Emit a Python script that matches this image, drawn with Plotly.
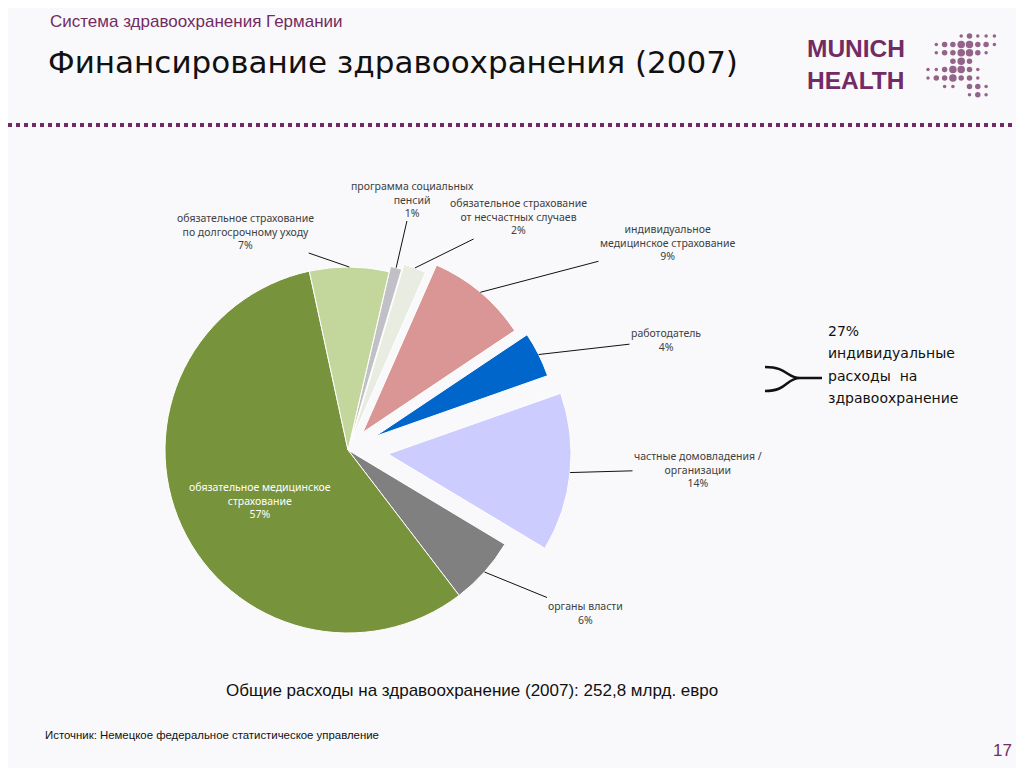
import math
import plotly.graph_objects as go

# pie data, clockwise from the first slice
labels = ["программа социальных<br>пенсий",
          "обязательное страхование<br>от несчастных случаев",
          "индивидуальное<br>медицинское страхование",
          "работодатель",
          "частные домовладения /<br>организации",
          "органы власти",
          "обязательное медицинское<br>страхование",
          "обязательное страхование<br>по долгосрочному уходу"]
shares = [1, 2, 9, 4, 14, 6, 57, 7]
colors = ["#C0C0C6", "#E9ECE0", "#D99694", "#0066CC", "#CCCCFF", "#808080", "#77933C", "#C3D69B"]
pulls = [0.03, 0.06, 0.125, 0.165, 0.22, 0, 0, 0]

# where each label sits (page pixels), index 6 is drawn inside the slice
label_pos = [(412, 199), (518, 217), (668, 243), (666, 340), (698, 469), (585, 613), (260, 500), (245, 231)]

side_lines = ["27%", "индивидуальные", "расходы  на", "здравоохранение"]

# the page body adds an 8px margin, so the figure is a bit smaller than the window
OFF = 8
W, H = 1024 - OFF, 768 - OFF
CX, CY, R = 348, 450, 183
ROT = 13
D = 2 * R * (1 + max(pulls))
PURPLE = "#732B63"


def px(x):
    return (x - OFF) / W


def py(y):
    return 1 - (y - OFF) / H


fig = go.Figure()
fig.add_trace(go.Pie(
    values=shares, labels=[l.replace("<br>", " ") for l in labels],
    marker=dict(colors=colors, line=dict(color="white", width=1)),
    pull=pulls, sort=False, direction="clockwise", rotation=ROT,
    textinfo="none", hoverinfo="label+percent", showlegend=False,
    domain=dict(x=[px(CX - D / 2), px(CX + D / 2)], y=[py(CY + D / 2), py(CY - D / 2)]),
))

# logo dots
logo_rows = [
    [0, 0, 0, 0, 1, 2, 1, 1, 1],
    [0, 1, 2, 2, 3, 3, 2, 2, 1],
    [0, 1, 2, 2, 3, 3, 2, 1, 0],
    [0, 0, 0, 2, 3, 2, 0, 0, 0],
    [1, 1, 2, 3, 3, 2, 1, 0, 0],
    [1, 2, 2, 3, 2, 2, 1, 0, 0],
    [0, 0, 1, 1, 0, 2, 2, 1, 0],
    [0, 0, 0, 0, 0, 1, 2, 1, 0],
]
dx, dy, ds = [], [], []
for j, row in enumerate(logo_rows):
    for k, s in enumerate(row):
        if s:
            dx.append(928 + 8.3 * k)
            dy.append(36 + 8.4 * j)
            ds.append([0, 3.5, 5.5, 7.5][s])
fig.add_trace(go.Scatter(x=dx, y=dy, mode="markers", hoverinfo="skip", showlegend=False,
                         marker=dict(size=ds, color="#6A2458", line=dict(width=0))))

fig.update_xaxes(range=[OFF, OFF + W], visible=False, fixedrange=True)
fig.update_yaxes(range=[OFF + H, OFF], visible=False, fixedrange=True)

ann = []
# slice labels with leader lines
total = sum(shares)
cum = 0
for i, v in enumerate(shares):
    a = math.radians(ROT + 360 * (cum + v / 2) / total)
    cum += v
    pcx = CX + pulls[i] * R * math.sin(a)
    pcy = CY - pulls[i] * R * math.cos(a)
    tx = pcx + R * math.sin(a)
    ty = pcy - R * math.cos(a)
    lx, ly = label_pos[i]
    txt = labels[i] + "<br>" + str(v) + "%"
    if i == 6:
        ann.append(dict(x=px(lx), y=py(ly), text=txt, showarrow=False,
                        xanchor="center", yanchor="middle",
                        font=dict(size=10.5, color="white", family="Noto Sans")))
    else:
        ann.append(dict(x=px(tx), y=py(ty), text=txt,
                        showarrow=True, arrowhead=0, arrowwidth=1, arrowcolor="#111111",
                        ax=lx - tx, ay=ly - ty, standoff=0,
                        font=dict(size=10.5, color="#404040", family="Noto Sans")))

for n, s in enumerate(side_lines):
    ann.append(dict(x=px(826), y=py(331 + 22.3 * n), text=s, xanchor="left",
                    font=dict(size=14, color="#111111", family="DejaVu Sans")))

# header, logo and footer
ann += [
    dict(x=px(48), y=py(22), text="Система здравоохранения Германии", xanchor="left",
         font=dict(size=17, color=PURPLE, family="Liberation Sans")),
    dict(x=px(46), y=py(62), text="Финансирование здравоохранения (2007)", xanchor="left",
         font=dict(size=31, color="#111111", family="DejaVu Sans")),
    dict(x=px(805), y=py(65), text="<b>MUNICH<br>HEALTH</b>", xanchor="left", align="left",
         font=dict(size=24.5, color=PURPLE, family="Liberation Sans")),
    dict(x=px(472), y=py(690), text="Общие расходы на здравоохранение (2007): 252,8 млрд. евро",
         xanchor="center", font=dict(size=17, color="#111111", family="Liberation Sans")),
    dict(x=px(43), y=py(735), text="Источник: Немецкое федеральное статистическое управление",
         xanchor="left", font=dict(size=11.4, color="#111111", family="Liberation Sans")),
    dict(x=px(1014), y=py(750), text="17", xanchor="right",
         font=dict(size=17, color=PURPLE, family="Liberation Sans")),
]
for a in ann:
    a.update(xref="paper", yref="paper")
    if not a.get("showarrow"):
        a["showarrow"] = False
        a.setdefault("yanchor", "middle")

shapes = [
    dict(type="line", xref="x", yref="y", x0=OFF, x1=OFF + W, y0=125, y1=125,
         line=dict(color=PURPLE, width=4, dash="4px,4px")),
    dict(type="path", xref="x", yref="y",
         path="M 765,367 C 788,367 786,378 800,378 L 822,378 M 765,391 C 788,391 786,378 800,378",
         line=dict(color="#111111", width=2.5)),
]

fig.update_layout(
    width=W, height=H, margin=dict(l=0, r=0, t=0, b=0),
    paper_bgcolor="#F9F9FB", plot_bgcolor="#F9F9FB",
    annotations=ann, shapes=shapes,
)

fig.write_html("out.html")
